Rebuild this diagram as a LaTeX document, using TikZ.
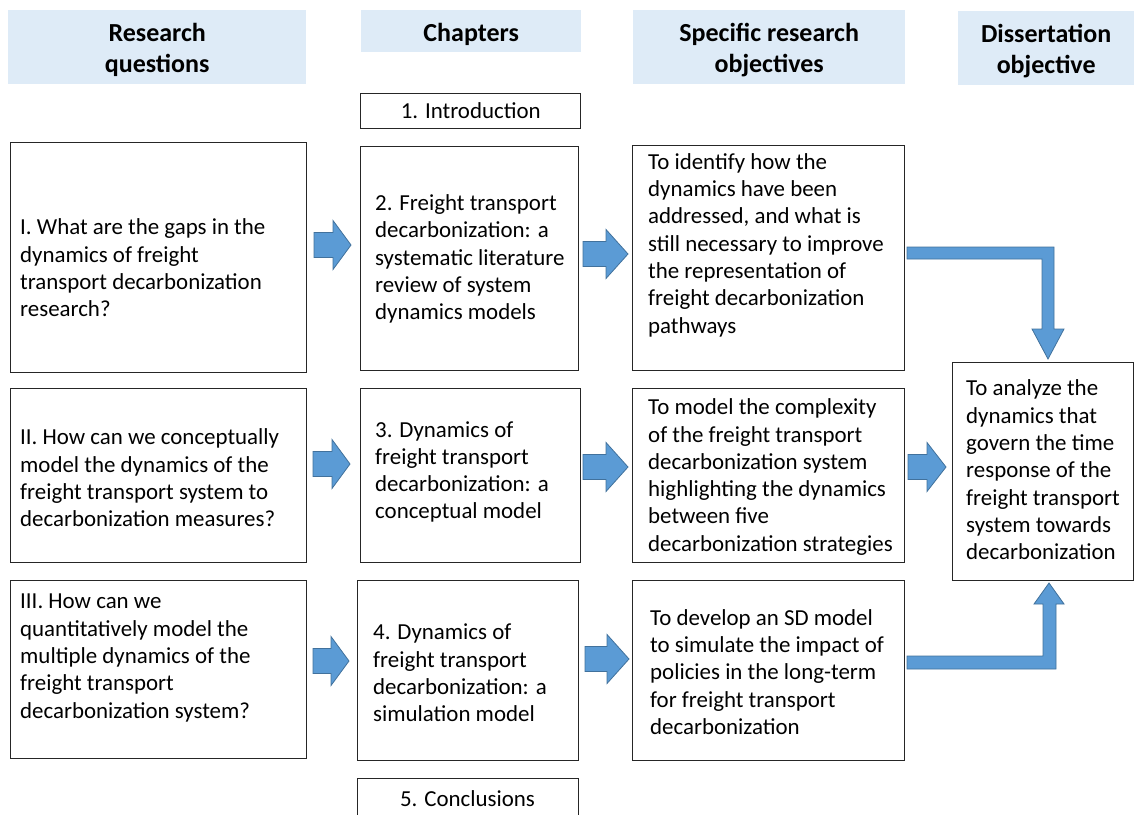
\documentclass[tikz,border=0pt]{standalone}
\usepackage{fontspec}
\setmainfont{Carlito}
\definecolor{headfill}{HTML}{DEEBF7}
\definecolor{arrowfill}{HTML}{5B9BD5}
\definecolor{arrowline}{HTML}{41719C}
\definecolor{boxline}{HTML}{262626}

% right-pointing block arrow: #1,#2 = tail-centre, #3 = length, #4 = head length
\newcommand\blockarrow[4]{%
  \draw[barrow] (#1,#2) ++(0,-12.5) -- ++({#3-#4},0) -- ++(0,-12) -- ++(#4,24.5)
    -- ++(-#4,24.5) -- ++(0,-12) -- ++({-(#3-#4)},0) -- cycle;}

\begin{document}
\begin{tikzpicture}[x=1pt,y=-1pt,
  box/.style={draw=boxline, line width=1.4pt, fill=white, inner sep=0pt, anchor=north west},
  head/.style={fill=headfill, inner sep=0pt, anchor=north west},
  headtxt/.style={font=\fontsize{26}{31}\selectfont\bfseries, align=center, inner sep=0pt},
  txt/.style={font=\fontsize{22.9}{27.3}\selectfont, align=left, inner sep=0pt, anchor=west},
  barrow/.style={fill=arrowfill, draw=arrowline, line width=0.8pt, line join=miter}]
\useasboundingbox (0,0) rectangle (1134,814);
\clip (0,0) rectangle (1134,814);

% column headers
\node[head, minimum width=298, minimum height=74] (h1) at (8,10) {};
\node[headtxt] at ([yshift=-3]h1.center) {Research\\questions};
\node[head, minimum width=220, minimum height=42] (h2) at (361,10) {};
\node[headtxt] at ([yshift=-3]h2.center) {Chapters};
\node[head, minimum width=272, minimum height=74] (h3) at (633,10) {};
\node[headtxt] at ([yshift=-3]h3.center) {Specific research\\objectives};
\node[head, minimum width=176, minimum height=74] (h4) at (958,11) {};
\node[headtxt] at ([yshift=-3]h4.center) {Dissertation\\objective};

% research questions
\node[box, minimum width=296, minimum height=230] (rq1) at (10,142) {};
\node[txt] (rq1t) at (20,268) {I. What are the gaps in the\\dynamics of freight\\transport decarbonization\\research?};
\node[box, minimum width=296, minimum height=174] (rq2) at (10,388) {};
\node[txt] (rq2t) at (20,478) {II. How can we conceptually\\model the dynamics of the\\freight transport system to\\decarbonization measures?};
\node[box, minimum width=296, minimum height=178] (rq3) at (10,580) {};
\node[txt] (rq3t) at (20,658) {III. How can we\\quantitatively model the\\multiple dynamics of the\\freight transport\\decarbonization system?};

% chapters
\node[box, minimum width=220, minimum height=35] (c1) at (360,93) {};
\node[txt, anchor=center] (c1t) at ([yshift=1]c1.center) {1. Introduction};
\node[box, minimum width=218, minimum height=224] (c2) at (360,146) {};
\node[txt] (c2t) at (375,259) {2. Freight transport\\decarbonization: a\\systematic literature\\review of system\\dynamics models};
\node[box, minimum width=220, minimum height=174] (c3) at (360,388) {};
\node[txt] (c3t) at (375,472) {3. Dynamics of\\freight transport\\decarbonization: a\\conceptual model};
\node[box, minimum width=221, minimum height=180] (c4) at (357,580) {};
\node[txt] (c4t) at (373,673) {4. Dynamics of\\freight transport\\decarbonization: a\\simulation model};
\node[box, minimum width=221, minimum height=60] (c5) at (357,778) {};
\node[txt, anchor=center] (c5t) at (467.5,799) {5. Conclusions};

% specific objectives
\node[box, minimum width=272, minimum height=225] (o1) at (632,145) {};
\node[txt] (o1t) at (648,245) {To identify how the\\dynamics have been\\addressed, and what is\\still necessary to improve\\the representation of\\freight decarbonization\\pathways};
\node[box, minimum width=272, minimum height=174] (o2) at (632,388) {};
\node[txt] (o2t) at (648,477) {To model the complexity\\of the freight transport\\decarbonization system\\highlighting the dynamics\\between five\\decarbonization strategies};
\node[box, minimum width=272, minimum height=180] (o3) at (632,580) {};
\node[txt] (o3t) at (650,672) {To develop an SD model\\to simulate the impact of\\policies in the long-term\\for freight transport\\decarbonization};

% dissertation objective
\node[box, minimum width=181, minimum height=218] (d) at (952,362) {};
\node[txt] (dt) at (966,470) {To analyze the\\dynamics that\\govern the time\\response of the\\freight transport\\system towards\\decarbonization};

% block arrows between columns
\blockarrow{314}{245}{37}{18}
\blockarrow{313}{464}{37}{18}
\blockarrow{313}{661}{36}{18}
\blockarrow{583}{254}{45}{22}
\blockarrow{583}{467}{45}{22}
\blockarrow{585}{659}{44}{22}
\blockarrow{908}{467}{38}{19}

% bent arrows into the dissertation objective
\draw[barrow] (907,247) -- (1054,247) -- (1054,329) -- (1064,329) -- (1048,359)
  -- (1032,329) -- (1042,329) -- (1042,259) -- (907,259) -- cycle;
\draw[barrow] (907,669) -- (1056,669) -- (1056,604) -- (1064,604) -- (1049,583)
  -- (1034,604) -- (1043,604) -- (1043,656) -- (907,656) -- cycle;
\end{tikzpicture}
\end{document}
